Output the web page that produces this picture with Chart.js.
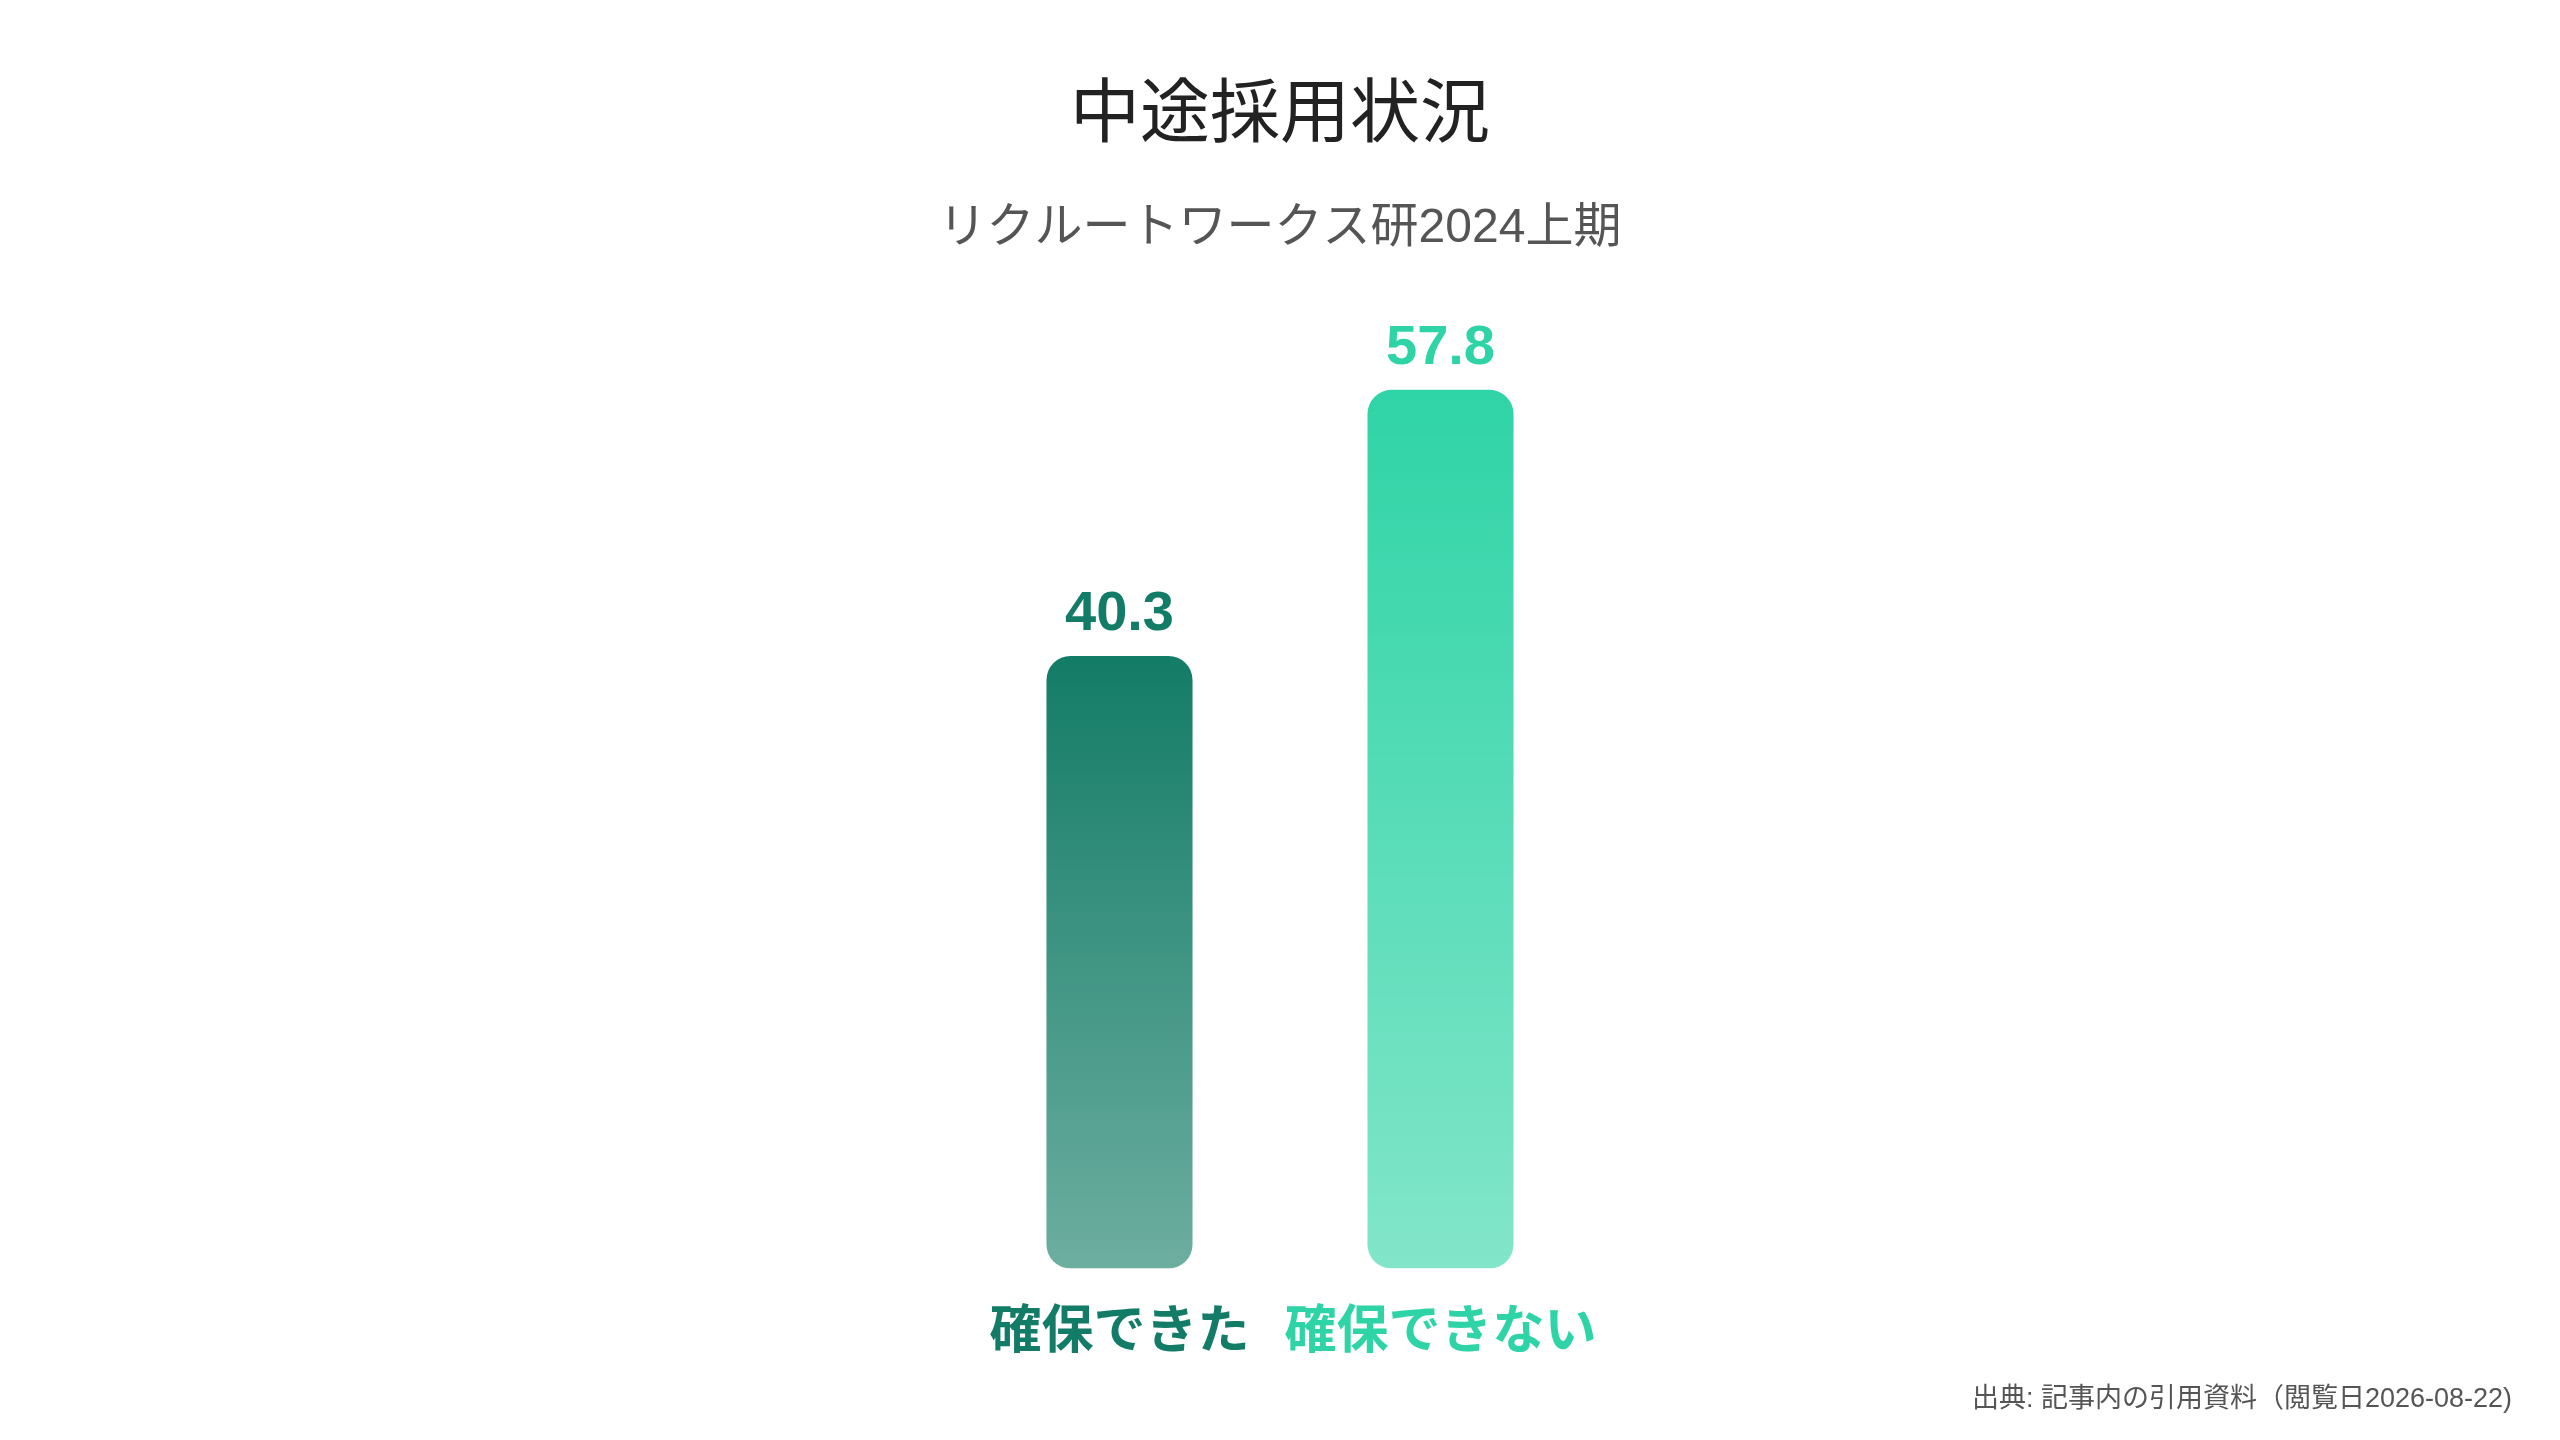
<!DOCTYPE html>
<html lang="ja">
<head>
<meta charset="utf-8">
<title>中途採用状況</title>
<script src="https://cdn.jsdelivr.net/npm/chart.js@4/dist/chart.umd.min.js"></script>
<style>
    html, body { margin: 0; padding: 0; background: #fff; }
    #wrap { position: relative; width: 2560px; height: 1440px; }
    #note {
        position: absolute; right: 48px; bottom: 25px;
        font: 27px "Liberation Sans", "Noto Sans CJK JP", sans-serif;
        color: #555;
    }
</style>
</head>
<body>
<div id="wrap">
    <canvas id="bar-chart"></canvas>
    <div id="note">出典: 記事内の引用資料（閲覧日2026-08-22)</div>
</div>
<script>
// data
const categories = ['確保できた', '確保できない'];
const values = [40.3, 57.8];

// colours for each bar (top of gradient -> bottom)
const topColors = ['rgb(19, 124, 102)', 'rgb(47, 212, 166)'];
const bottomColors = ['rgba(19, 124, 102, 0.62)', 'rgba(47, 212, 166, 0.6)'];

const FONT = '"Liberation Sans", "Noto Sans CJK JP", sans-serif';

// gradient fill per bar, built from the y scale
function barGradient(c) {
    const chart = c.chart;
    const i = c.dataIndex;
    if (!chart.chartArea) return topColors[i];
    const y = chart.scales.y;
    const g = chart.ctx.createLinearGradient(0, y.getPixelForValue(values[i]), 0, y.getPixelForValue(0));
    g.addColorStop(0, topColors[i]);
    g.addColorStop(1, bottomColors[i]);
    return g;
}

// value text above each bar
const valueLabels = {
    id: 'valueLabels',
    afterDatasetsDraw(chart) {
        const ctx = chart.ctx;
        const meta = chart.getDatasetMeta(0);
        ctx.save();
        ctx.font = 'bold 56px ' + FONT;
        ctx.textAlign = 'center';
        ctx.textBaseline = 'alphabetic';
        meta.data.forEach((bar, i) => {
            ctx.fillStyle = topColors[i];
            ctx.fillText(values[i].toFixed(1), bar.x, bar.y - 26);
        });
        ctx.restore();
    }
};

// invisible side axes keep the two bars close to the centre
const sideAxis = (pos) => ({
    display: true,
    position: pos,
    min: 0,
    max: 64,
    ticks: { display: false },
    grid: { display: false, drawTicks: false },
    border: { display: false },
    afterFit: (scale) => { scale.width = 959; }
});

window.addEventListener('DOMContentLoaded', () => {
    const ctx = document.getElementById('bar-chart').getContext('2d');
    new Chart(ctx, {
        type: 'bar',
        data: {
            labels: categories,
            datasets: [{
                data: values,
                backgroundColor: barGradient,
                borderRadius: 24,
                borderSkipped: false,
                categoryPercentage: 1,
                barPercentage: 0.455
            }]
        },
        options: {
            responsive: true,
            maintainAspectRatio: false,
            devicePixelRatio: 1,
            animation: false,
            layout: { padding: { top: 40, bottom: 41, left: 0, right: 0 } },
            plugins: {
                legend: { display: false },
                tooltip: { enabled: false },
                title: {
                    display: true,
                    text: '中途採用状況',
                    color: '#222',
                    font: { family: FONT, size: 70, weight: 'normal' },
                    padding: { top: 36, bottom: 18 }
                },
                subtitle: {
                    display: true,
                    text: 'リクルートワークス研2024上期',
                    color: '#555',
                    font: { family: FONT, size: 48, weight: 'normal' },
                    padding: { top: 22, bottom: 38 }
                }
            },
            scales: {
                x: {
                    grid: { display: false, drawTicks: false },
                    border: { display: false },
                    ticks: {
                        padding: 34,
                        color: (c) => topColors[c.index],
                        font: { family: FONT, size: 52, weight: 'bold' }
                    }
                },
                y: sideAxis('left'),
                y2: sideAxis('right')
            }
        },
        plugins: [valueLabels]
    });
});
</script>
</body>
</html>
